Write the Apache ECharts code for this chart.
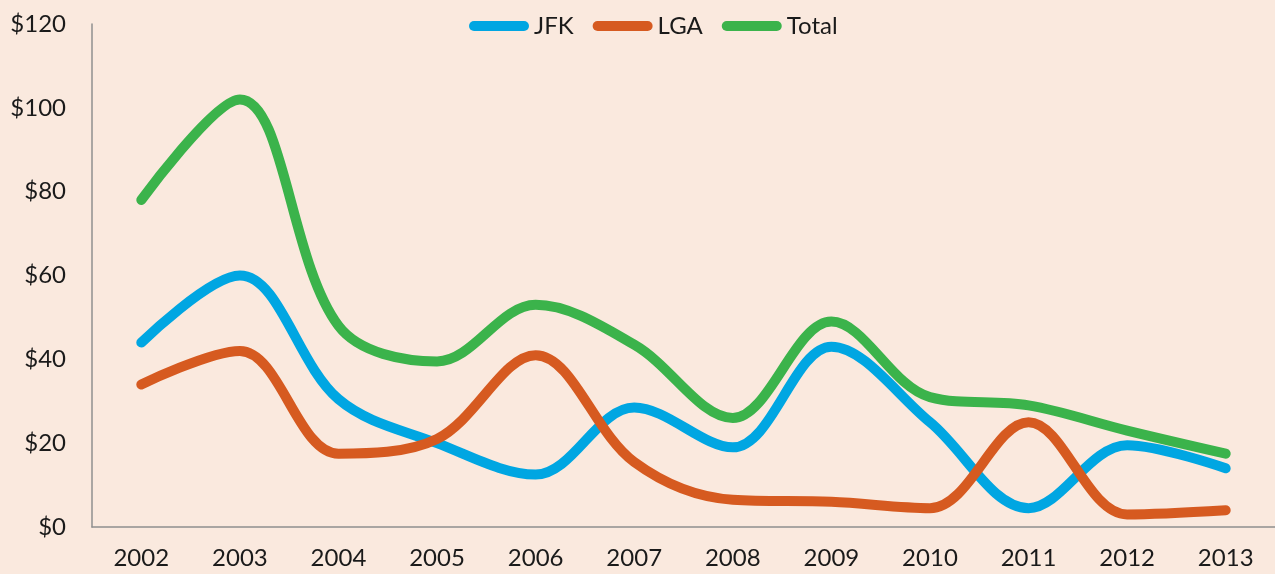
<!DOCTYPE html>
<html>
<head>
<meta charset="utf-8">
<title>JFK / LGA</title>
<script src="https://cdn.jsdelivr.net/npm/echarts@6/dist/echarts.min.js"></script>
<style>
  html, body { margin: 0; padding: 0; background: #fae9de; }
  #main { width: 1275px; height: 574px; }
</style>
</head>
<body>
<div id="main"></div>
<script>
// 年份 + 三条线的数据
var years = ['2002', '2003', '2004', '2005', '2006', '2007', '2008', '2009', '2010', '2011', '2012', '2013'];
var jfk = [44, 60, 30.5, 20, 12.5, 28.5, 19, 43, 25, 4.5, 19.5, 14];
var lga = [34, 42, 17.5, 21, 41, 15.5, 6.5, 6, 4.5, 25, 3, 4];
var total = [78, 102, 48, 39.5, 53, 43.5, 26, 49, 31, 29, 23, 17.5];
var yTicks = [0, 20, 40, 60, 80, 100, 120];

var font = 'Lato, "DejaVu Sans", sans-serif';
var legendIcon = 'path://M5,0 H55 A5,5 0 0 1 55,10 H5 A5,5 0 0 1 5,0 Z';

function makeLine(name, data, color) {
  return {
    name: name,
    type: 'line',
    smooth: 0.35,
    symbol: 'none',
    data: data,
    lineStyle: {
      width: 10,
      color: color,
      cap: 'round',
      join: 'round'
    },
    itemStyle: { color: color }
  };
}

var chart = echarts.init(document.getElementById('main'));
var option = {
  backgroundColor: '#fae9de',
  animation: false,
  legend: {
    data: ['JFK', 'LGA', 'Total'],
    top: 9,
    left: 464,
    icon: legendIcon,
    itemWidth: 60,
    itemHeight: 10,
    itemGap: 19,
    itemTextGap: 2,
    textStyle: {
      fontFamily: font,
      fontSize: 24,
      color: '#1a1a1a'
    }
  },
  grid: {
    left: 92,
    right: -7,
    top: 24,
    bottom: 47,
    containLabel: false
  },
  xAxis: {
    type: 'category',
    data: years,
    boundaryGap: true,
    axisLine: { lineStyle: { color: '#8f8f8f', width: 1.5 } },
    axisTick: { show: false },
    axisLabel: {
      margin: 19,
      fontFamily: font,
      fontSize: 24,
      color: '#1a1a1a'
    }
  },
  yAxis: {
    type: 'value',
    min: yTicks[0],
    max: yTicks[yTicks.length - 1],
    interval: 20,
    axisLine: { show: true, lineStyle: { color: '#8f8f8f', width: 1.5 } },
    axisTick: { show: false },
    splitLine: { show: false },
    axisLabel: {
      margin: 26,
      fontFamily: font,
      fontSize: 24,
      color: '#1a1a1a',
      formatter: function (v) { return '$' + v; }
    }
  },
  series: [
    makeLine('JFK', jfk, '#00a6e2'),
    makeLine('LGA', lga, '#d65a20'),
    makeLine('Total', total, '#3bb34b')
  ]
};
chart.setOption(option);
</script>
</body>
</html>
